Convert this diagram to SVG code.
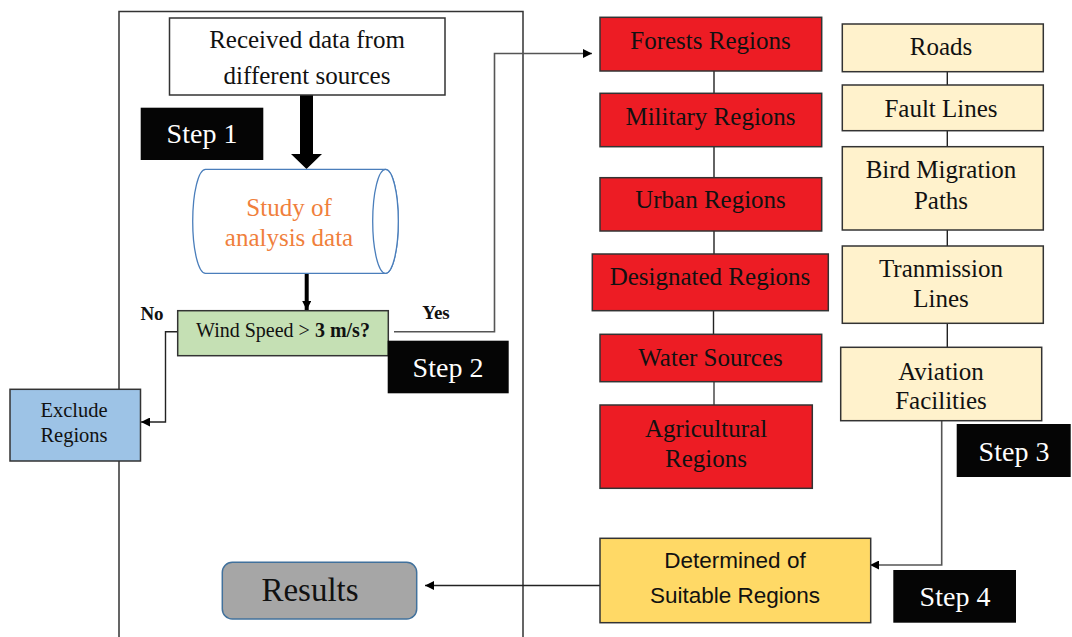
<svg xmlns="http://www.w3.org/2000/svg" width="1072" height="637" viewBox="0 0 1072 637">
<defs>
<style>
.t{font-family:"Liberation Serif","Times New Roman",serif;fill:#111;text-anchor:middle}
.box{stroke:#333;stroke-width:1.5}
.red{fill:#ed1c24}
.bei{fill:#fff2cc}
.step{fill:#050505}
.st{font-family:"Liberation Serif","Times New Roman",serif;fill:#fff;text-anchor:middle;font-size:28px}
.con{fill:none;stroke:#222;stroke-width:1.4}
.gray{fill:none;stroke:#555;stroke-width:1.6}
.sans{font-family:"Liberation Sans",Arial,sans-serif;fill:#111;text-anchor:middle;font-size:22.5px}
</style>
<marker id="ah" viewBox="0 0 10 10" refX="10" refY="5" markerWidth="10" markerHeight="9" markerUnits="userSpaceOnUse" orient="auto">
<path d="M0,0 L10,5 L0,10 Z" fill="#000"/>
</marker>
</defs>
<rect width="1072" height="637" fill="#fff"/>

<g id="frame">
<path d="M119,637 V11.5 H523 V637" fill="none" stroke="#333" stroke-width="1.5"/>
</g>

<g id="connectors">
<polygon points="300,95 313,95 313,154 322,154 306.5,169 291,154 300,154" fill="#000"/>
<line x1="306.7" y1="273" x2="306.7" y2="310" stroke="#000" stroke-width="4" marker-end="url(#ah)"/>
<path class="gray" d="M394,331.7 H494.5 V53.5 H592" marker-end="url(#ah)"/>
<path class="con" d="M178,331.7 H165.5 V422 H141" marker-end="url(#ah)"/>
<line class="con" x1="714" y1="71" x2="714" y2="93"/>
<line class="con" x1="714" y1="147" x2="714" y2="177"/>
<line class="con" x1="714" y1="231" x2="714" y2="254"/>
<line class="con" x1="713.5" y1="311" x2="713.5" y2="334"/>
<line class="gray" x1="714" y1="382" x2="714" y2="405"/>
<line class="con" x1="947.3" y1="72" x2="947.3" y2="85"/>
<line class="con" x1="947.3" y1="131" x2="947.3" y2="147"/>
<line class="con" x1="947.3" y1="230" x2="947.3" y2="246"/>
<line class="con" x1="947.3" y1="323" x2="947.3" y2="347"/>
<path class="gray" d="M941.7,421 V565 H870" marker-end="url(#ah)"/>
<line class="con" x1="600" y1="585.5" x2="425" y2="585.5" marker-end="url(#ah)"/>
</g>

<g id="received">
<rect class="box" x="169.5" y="18" width="275.5" height="77" fill="#fff"/>
<text class="t" x="307" y="48.3" font-size="25">Received data from</text>
<text class="t" x="307" y="84.3" font-size="25">different sources</text>
</g>

<g id="step1">
<rect class="step" x="140.7" y="107.7" width="122.6" height="52.3"/>
<text class="st" x="202" y="143.3">Step 1</text>
</g>

<g id="study">
<path d="M205.5,169.3 H385.5 A12.8,52 0 0 1 385.5,273.3 H205.5 A12.8,52 0 0 1 205.5,169.3 Z" fill="#fff" stroke="#4a7ebb" stroke-width="1.3"/>
<ellipse cx="385.5" cy="221.3" rx="12.8" ry="52" fill="#fff" stroke="#4a7ebb" stroke-width="1.3"/>
<text class="t" x="289" y="216" font-size="25" style="fill:#f07f3c">Study of</text>
<text class="t" x="289" y="246" font-size="25" style="fill:#f07f3c">analysis data</text>
</g>

<g id="wind">
<rect class="box" x="177.7" y="310.7" width="210.6" height="45" fill="#c5e0b4"/>
<text class="t" x="283" y="336.7" font-size="20">Wind Speed &gt; <tspan font-weight="bold">3 m/s?</tspan></text>
</g>

<g id="labels">
<text class="t" x="152" y="320" font-size="19" font-weight="bold">No</text>
<text class="t" x="436" y="319.3" font-size="19" font-weight="bold">Yes</text>
</g>

<g id="step2">
<rect class="step" x="387.7" y="340.7" width="121" height="52.6"/>
<text class="st" x="448" y="377">Step 2</text>
</g>

<g id="exclude">
<rect class="box" x="10" y="389.3" width="130.5" height="71.7" fill="#9dc3e6"/>
<text class="t" x="74" y="416.7" font-size="20.5">Exclude</text>
<text class="t" x="74" y="441.7" font-size="20.5">Regions</text>
</g>

<g id="results">
<rect x="222.3" y="562.3" width="194.4" height="56.7" rx="10" fill="#a6a6a6" stroke="#41719c" stroke-width="1.5"/>
<text class="t" x="310" y="600.5" font-size="33">Results</text>
</g>

<g id="forests">
<rect class="box red" x="600" y="17.3" width="221.7" height="53.7"/>
<text class="t" x="710.5" y="49.3" font-size="25">Forests Regions</text>
</g>
<g id="military">
<rect class="box red" x="600" y="93.3" width="221.7" height="53.4"/>
<text class="t" x="710.5" y="125" font-size="25">Military Regions</text>
</g>
<g id="urban">
<rect class="box red" x="600" y="177.7" width="221.7" height="53.3"/>
<text class="t" x="710.5" y="208.3" font-size="25">Urban Regions</text>
</g>
<g id="designated">
<rect class="box red" x="592.3" y="254" width="236" height="56.7"/>
<text class="t" x="710" y="285" font-size="25">Designated Regions</text>
</g>
<g id="water">
<rect class="box red" x="600" y="334.3" width="221.7" height="47.4"/>
<text class="t" x="710.5" y="366" font-size="25">Water Sources</text>
</g>
<g id="agricultural">
<rect class="box red" x="600" y="405" width="212.3" height="83.3"/>
<text class="t" x="706" y="436.7" font-size="25">Agricultural</text>
<text class="t" x="706" y="466.7" font-size="25">Regions</text>
</g>

<g id="roads">
<rect class="box bei" x="842.3" y="24" width="201" height="47.7"/>
<text class="t" x="941" y="55" font-size="25">Roads</text>
</g>
<g id="fault">
<rect class="box bei" x="842.3" y="85" width="201" height="45.7"/>
<text class="t" x="941" y="116.7" font-size="25">Fault Lines</text>
</g>
<g id="bird">
<rect class="box bei" x="842.3" y="146.7" width="201" height="83.3"/>
<text class="t" x="941" y="178.3" font-size="25">Bird Migration</text>
<text class="t" x="941" y="209" font-size="25">Paths</text>
</g>
<g id="transmission">
<rect class="box bei" x="842.3" y="246" width="201" height="77.3"/>
<text class="t" x="941" y="276.7" font-size="25">Tranmission</text>
<text class="t" x="941" y="307.3" font-size="25">Lines</text>
</g>
<g id="aviation">
<rect class="box bei" x="840.7" y="347.3" width="201" height="73.4"/>
<text class="t" x="941" y="380" font-size="25">Aviation</text>
<text class="t" x="941" y="409.3" font-size="25">Facilities</text>
</g>

<g id="step3">
<rect class="step" x="956.7" y="424" width="114" height="53"/>
<text class="st" x="1014" y="461">Step 3</text>
</g>

<g id="determined">
<rect class="box" x="600" y="538.3" width="270.7" height="84.4" fill="#ffd966"/>
<text class="sans" x="735" y="568.3">Determined of</text>
<text class="sans" x="735" y="603.3">Suitable Regions</text>
</g>

<g id="step4">
<rect class="step" x="893.3" y="570" width="122.7" height="52.7"/>
<text class="st" x="955" y="606">Step 4</text>
</g>
</svg>
